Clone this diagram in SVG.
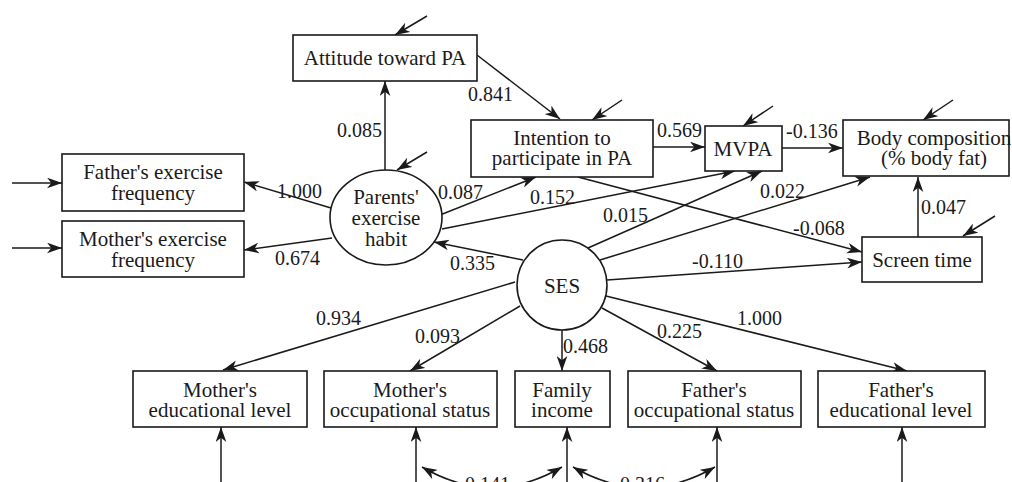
<svg xmlns="http://www.w3.org/2000/svg" width="1012" height="482" viewBox="0 0 1012 482">
<style>
.box{fill:#fff;stroke:#1a1a1a;stroke-width:1.6}
.t{font-family:"Liberation Serif","Times New Roman",serif;font-size:21px;fill:#1a1a1a;text-anchor:middle}
.n{font-family:"Liberation Serif","Times New Roman",serif;font-size:20px;fill:#1a1a1a}
.c line,.c path{stroke:#1a1a1a;stroke-width:1.5;fill:none;marker-end:url(#ah)}
.c path.d{marker-start:url(#ah)}
</style>
<defs>
<marker id="ah" markerUnits="userSpaceOnUse" viewBox="0 0 14 10" refX="14" refY="5" markerWidth="15" markerHeight="11" orient="auto-start-reverse">
<path d="M0,0 L14,5 L0,10 L4,5 z" fill="#1a1a1a"/>
</marker>
</defs>
<rect width="1012" height="482" fill="#fff"/>
<g class="c" id="connectors">
<line x1="427" y1="16" x2="395" y2="35"/>
<line x1="622" y1="100" x2="592" y2="120"/>
<line x1="773" y1="106" x2="743" y2="126"/>
<line x1="953" y1="100" x2="923" y2="120"/>
<line x1="427" y1="152" x2="397" y2="170"/>
<line x1="995" y1="216" x2="963" y2="236"/>
<line x1="12" y1="183" x2="62" y2="183"/>
<line x1="12" y1="248" x2="62" y2="248"/>
<line x1="221" y1="482" x2="221" y2="427"/>
<line x1="416" y1="482" x2="416" y2="427"/>
<line x1="567" y1="482" x2="567" y2="427"/>
<line x1="717" y1="482" x2="717" y2="427"/>
<line x1="902" y1="482" x2="902" y2="427"/>
<line x1="385" y1="170" x2="385" y2="81"/>
<line x1="477" y1="55" x2="560" y2="119"/>
<line x1="331" y1="208" x2="244" y2="182"/>
<line x1="332" y1="238" x2="244" y2="250"/>
<line x1="440" y1="215" x2="536" y2="177"/>
<line x1="442" y1="229" x2="735" y2="171"/>
<line x1="588" y1="248" x2="762" y2="171"/>
<line x1="600" y1="260" x2="870" y2="177"/>
<line x1="607" y1="280" x2="862" y2="262"/>
<line x1="578" y1="177" x2="862" y2="252"/>
<line x1="523" y1="260" x2="434" y2="242"/>
<line x1="653" y1="147" x2="705" y2="147"/>
<line x1="782" y1="148" x2="843" y2="148"/>
<line x1="918" y1="237" x2="918" y2="177"/>
<line x1="515" y1="282" x2="223" y2="370"/>
<line x1="520" y1="306" x2="410" y2="371"/>
<line x1="562" y1="330" x2="562" y2="371"/>
<line x1="602" y1="308" x2="717" y2="371"/>
<line x1="606" y1="296" x2="907" y2="371"/>
<path class="d" d="M422,467 Q492,508 562,467"/>
<path class="d" d="M573,467 Q644,508 715,467"/>
</g>
<g id="attitude"><rect class="box" x="293" y="35" width="184" height="46"/><text class="t" x="385" y="65">Attitude toward PA</text></g>
<g id="intention"><rect class="box" x="471" y="120" width="182" height="57"/><text class="t" x="562" y="145">Intention to</text><text class="t" x="562" y="165">participate in PA</text></g>
<g id="mvpa"><rect class="box" x="705" y="126" width="77" height="45"/><text class="t" x="743" y="156">MVPA</text></g>
<g id="body"><rect class="box" x="843" y="120" width="166" height="56"/><text class="t" x="934" y="145">Body composition</text><text class="t" x="934" y="165">(% body fat)</text></g>
<g id="screen"><rect class="box" x="862" y="237" width="120" height="45"/><text class="t" x="922" y="267">Screen time</text></g>
<g id="father-ex"><rect class="box" x="62" y="154" width="182" height="57"/><text class="t" x="153" y="179">Father's exercise</text><text class="t" x="153" y="200">frequency</text></g>
<g id="mother-ex"><rect class="box" x="62" y="221" width="182" height="56"/><text class="t" x="153" y="246">Mother's exercise</text><text class="t" x="153" y="267">frequency</text></g>
<g id="parents"><ellipse class="box" cx="386" cy="217.5" rx="56" ry="47.5"/><text class="t" x="386" y="204">Parents'</text><text class="t" x="386" y="225">exercise</text><text class="t" x="386" y="246">habit</text></g>
<g id="ses"><circle class="box" cx="562" cy="285" r="45"/><text class="t" x="562" y="293">SES</text></g>
<g id="mother-ed"><rect class="box" x="133" y="371" width="174" height="56"/><text class="t" x="220" y="397">Mother's</text><text class="t" x="220" y="417">educational level</text></g>
<g id="mother-occ"><rect class="box" x="324" y="371" width="173" height="56"/><text class="t" x="410" y="397">Mother's</text><text class="t" x="410" y="417">occupational status</text></g>
<g id="income"><rect class="box" x="515" y="371" width="95" height="56"/><text class="t" x="562" y="397">Family</text><text class="t" x="562" y="417">income</text></g>
<g id="father-occ"><rect class="box" x="628" y="371" width="173" height="56"/><text class="t" x="714" y="397">Father's</text><text class="t" x="714" y="417">occupational status</text></g>
<g id="father-ed"><rect class="box" x="818" y="371" width="167" height="56"/><text class="t" x="901" y="397">Father's</text><text class="t" x="901" y="417">educational level</text></g>
<g id="labels">
<text class="n" x="468" y="101">0.841</text>
<text class="n" x="337" y="137">0.085</text>
<text class="n" x="277" y="198">1.000</text>
<text class="n" x="275" y="265">0.674</text>
<text class="n" x="438" y="199">0.087</text>
<text class="n" x="530" y="204">0.152</text>
<text class="n" x="603" y="222">0.015</text>
<text class="n" x="450" y="270">0.335</text>
<text class="n" x="657" y="137">0.569</text>
<text class="n" x="786" y="138">-0.136</text>
<text class="n" x="760" y="198">0.022</text>
<text class="n" x="793" y="235">-0.068</text>
<text class="n" x="921" y="214">0.047</text>
<text class="n" x="692" y="268">-0.110</text>
<text class="n" x="316" y="325">0.934</text>
<text class="n" x="415" y="343">0.093</text>
<text class="n" x="563" y="353">0.468</text>
<text class="n" x="657" y="338">0.225</text>
<text class="n" x="737" y="325">1.000</text>
<text class="n" x="465" y="491">0.141</text>
<text class="n" x="620" y="491">0.316</text>
</g>
</svg>
